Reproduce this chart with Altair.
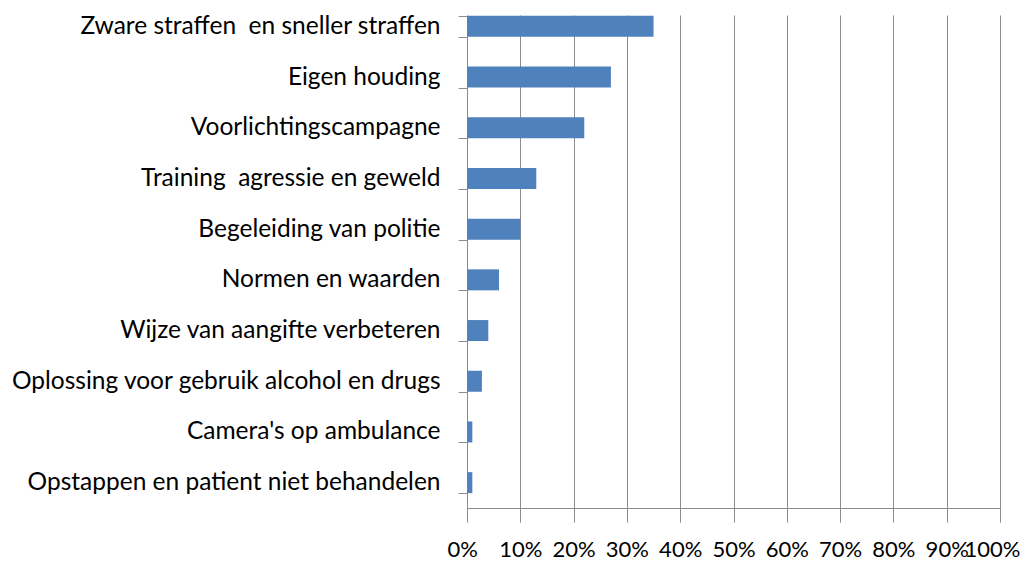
import altair as alt
import pandas as pd

categories = [
    "Zware straffen\u00a0 en sneller straffen",
    "Eigen houding",
    "Voorlichtingscampagne",
    "Training\u00a0 agressie en geweld",
    "Begeleiding van politie",
    "Normen en waarden",
    "Wijze van aangifte verbeteren",
    "Oplossing voor gebruik alcohol en drugs",
    "Camera's op ambulance",
    "Opstappen en patient niet behandelen",
]
values = [35, 27, 22, 13, 10, 6, 4, 2.8, 1, 1]
x_ticks = [0, 10, 20, 30, 40, 50, 60, 70, 80, 90, 100]

df = pd.DataFrame({"categorie": categories, "waarde": values})

W, H = 533, 493
FONT = "Lato"
GRID = "#8C8C8C"

bars = alt.Chart(df).mark_bar(color="#4F81BD").encode(
    x=alt.X(
        "waarde:Q",
        scale=alt.Scale(domain=[0, 100], nice=False, zero=True),
        axis=alt.Axis(
            values=x_ticks,
            labelExpr="datum.value + '%'",
            title=None,
            grid=True,
            gridColor=GRID,
            gridWidth=1,
            gridOpacity=1,
            domainColor=GRID,
            domainWidth=1,
            tickColor=GRID,
            tickSize=10,
            tickWidth=1,
            labelFont=FONT,
            labelFontSize=22,
            labelColor="#000000",
            labelPadding=21,
            labelFlush=True,
            labelFlushOffset=20,
            labelOverlap=False,
        ),
    ),
    y=alt.Y(
        "categorie:N",
        sort=categories,
        scale=alt.Scale(range=[-14, H], paddingInner=0.586, paddingOuter=0.293),
        axis=alt.Axis(
            title=None,
            domain=False,
            grid=False,
            tickBand="extent",
            tickColor=GRID,
            tickSize=9,
            tickWidth=1,
            labelFont=FONT,
            labelFontSize=24.5,
            labelColor="#000000",
            labelPadding=18,
            labelLimit=0,
        ),
    ),
)

chart = (
    bars.properties(width=W, height=H)
    .configure_view(stroke=None)
    .properties(
        autosize=alt.AutoSizeParams(type="none"),
        padding={"left": 459, "top": 7, "right": 24, "bottom": 55},
        background="white",
    )
)

chart.save("out.html", embed_options={"renderer": "svg", "actions": False})
